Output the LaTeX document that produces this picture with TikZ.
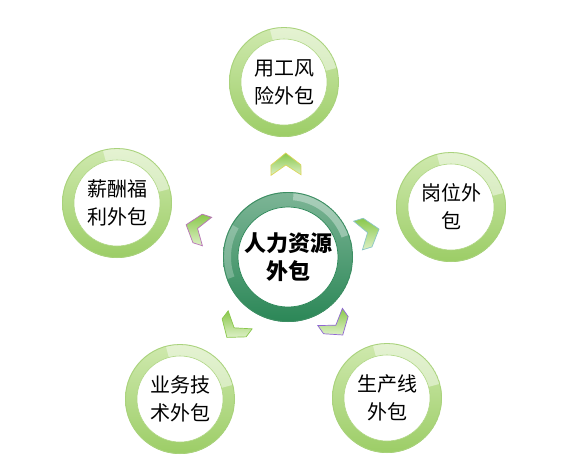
\documentclass[tikz,border=0pt]{standalone}
\usepackage{fontspec}
\newfontfamily\cjk{Noto Sans CJK SC}
\usetikzlibrary{calc}
\definecolor{ringlight}{HTML}{CFE9AE}
\definecolor{ringdark}{HTML}{9CCD66}
\definecolor{ringedge}{HTML}{A9D27C}
\definecolor{cenlight}{HTML}{7DB596}
\definecolor{cendark}{HTML}{2B8757}
\definecolor{cenedge}{HTML}{3D8E63}
\definecolor{chevgreen}{HTML}{8AC84C}
\definecolor{chevlight}{HTML}{DDF0C6}
\tikzset{
  outerring/.style={circle, minimum size=110pt, inner sep=0pt, align=center,
    font=\cjk\fontsize{20}{28}\selectfont,
    path picture={
      \shade[top color=ringlight, bottom color=ringdark]
        (path picture bounding box.south west) rectangle (path picture bounding box.north east);
      \fill[white, opacity=.45] (path picture bounding box.center) ++(15:55pt)
        arc[start angle=15, end angle=105, radius=55pt] -- ++(105:-12pt)
        arc[start angle=105, end angle=15, radius=43pt] -- cycle;
      \fill[white] (path picture bounding box.center) circle[radius=43pt];
      \draw[ringedge, line width=.8pt] (path picture bounding box.center) circle[radius=54.5pt];
      \draw[ringdark!80, line width=.6pt] (path picture bounding box.center) circle[radius=43pt];
    }},
  centerring/.style={circle, minimum size=130pt, inner sep=0pt, align=center,
    font=\cjk\bfseries\fontsize{22}{28}\selectfont,
    path picture={
      \shade[top color=cenlight, bottom color=cendark]
        (path picture bounding box.south west) rectangle (path picture bounding box.north east);
      \fill[white, opacity=.35] (path picture bounding box.center) ++(20:65pt)
        arc[start angle=20, end angle=85, radius=65pt] -- ++(85:-8pt)
        arc[start angle=85, end angle=20, radius=57pt] -- cycle;
      \fill[white, opacity=.25] (path picture bounding box.center) ++(150:65pt)
        arc[start angle=150, end angle=200, radius=65pt] -- ++(200:-8pt)
        arc[start angle=200, end angle=150, radius=57pt] -- cycle;
      \fill[white] (path picture bounding box.center) circle[radius=50pt];
      \draw[cenedge, line width=.9pt] (path picture bounding box.center) circle[radius=64.5pt];
      \draw[cendark, line width=.7pt] (path picture bounding box.center) circle[radius=50pt];
    }},
  chevshape/.style={line width=.7pt, line join=miter}
}
\newcommand\mychev[3]{%
  \begin{scope}[shift={#1}, rotate=#2]
    \shade[chevshape, draw=#3, top color=chevgreen, bottom color=chevlight]
      (10pt,0pt) -- (-2pt,15pt) -- (-12pt,15pt) -- (-2pt,0pt) -- (-12pt,-15pt) -- (-2pt,-15pt) -- cycle;
  \end{scope}}
\begin{document}
\begin{tikzpicture}[x=1pt, y=-1pt]
  \useasboundingbox[fill=white] (0,0) rectangle (566,469);
  \node[centerring] (c)  at (288,257) {人力资源\\外包};
  \node[outerring]  (t)  at (284,82)  {用工风\\险外包};
  \node[outerring]  (l)  at (117,203) {薪酬福\\利外包};
  \node[outerring]  (r)  at (451,207) {岗位外\\包};
  \node[outerring]  (bl) at (180,399) {业务技\\术外包};
  \node[outerring]  (br) at (387,398) {生产线\\外包};
  \mychev{($(c)!0.537!(t)$)}{91}{yellow!50!olive!60}
  \mychev{($(c)!0.54!(l)$)}{162}{violet!55}
  \mychev{($(c)!0.50!(r)$)}{17}{teal!45}
  \mychev{($(c)!0.51!(bl)$)}{233}{chevgreen}
  \mychev{($(c)!0.495!(br)$)}{305}{blue!45!violet!60}
\end{tikzpicture}
\end{document}
